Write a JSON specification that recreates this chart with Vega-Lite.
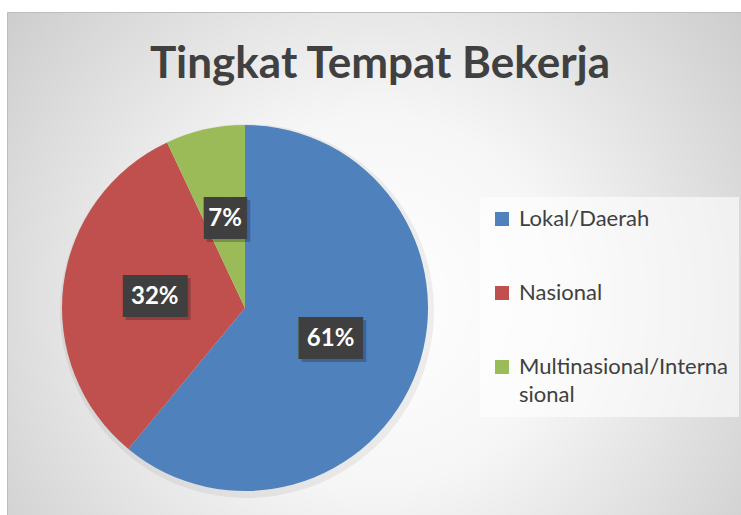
{
  "$schema": "https://vega.github.io/schema/vega-lite/v6.json",
  "width": 741,
  "height": 515,
  "autosize": {"type": "fit", "contains": "padding"},
  "padding": {"left": 7, "top": 12, "right": 0, "bottom": 0},
  "background": "#ffffff",
  "view": {
    "fill": {
      "gradient": "radial",
      "x1": 0.5, "y1": 0.55, "r1": 0,
      "x2": 0.5, "y2": 0.55, "r2": 0.72,
      "stops": [
        {"offset": 0, "color": "#ffffff"},
        {"offset": 0.35, "color": "#f6f6f6"},
        {"offset": 1, "color": "#c4c4c4"}
      ]
    },
    "stroke": "#bdbdbd",
    "strokeWidth": 1
  },
  "config": {
    "style": {"guide-label": {"lineHeight": 28}}
  },
  "title": {
    "text": "Tingkat Tempat Bekerja",
    "anchor": "middle",
    "frame": "group",
    "font": "Lato",
    "fontSize": 44,
    "fontWeight": "bold",
    "color": "#404040",
    "baseline": "alphabetic",
    "offset": -110,
    "dx": 6
  },
  "data": {
    "values": [
      {"category": "Lokal/Daerah", "value": 61, "label": "61%"},
      {"category": "Nasional", "value": 32, "label": "32%"},
      {"category": "Multinasional/Internasional", "value": 7, "label": "7%"}
    ]
  },
  "encoding": {
    "theta": {"field": "value", "type": "quantitative", "stack": true},
    "order": {"field": "value", "type": "quantitative", "sort": "descending"}
  },
  "layer": [
    {
      "mark": {"type": "arc", "x": 240, "y": 299, "outerRadius": 187, "fill": "#000000", "opacity": 0.06},
      "encoding": {"detail": {"field": "category"}}
    },
    {
      "mark": {"type": "arc", "x": 238, "y": 296, "outerRadius": 183},
      "encoding": {
        "color": {
          "field": "category",
          "type": "nominal",
          "scale": {
            "domain": ["Lokal/Daerah", "Nasional", "Multinasional/Internasional"],
            "range": ["#4F81BD", "#C0504D", "#9BBB59"]
          },
          "legend": {
            "orient": "none",
            "legendX": 473,
            "legendY": 185,
            "title": null,
            "fillColor": "rgba(255,255,255,0.6)",
            "padding": 11,
            "symbolType": "square",
            "symbolSize": 196,
            "symbolStrokeWidth": 0,
            "labelFont": "Lato",
            "labelFontSize": 22,
            "labelColor": "#404040",
            "labelLimit": 0,
            "labelOffset": 6,
            "rowPadding": 52,
            "labelExpr": "datum.label == 'Multinasional/Internasional' ? ['Multinasional/Interna', 'sional'] : datum.label"
          }
        }
      }
    },
    {
      "mark": {"type": "text", "x": 238, "y": 296, "dx": 3, "dy": 3, "radius": 91, "font": "DejaVu Sans Mono", "fontSize": 35.4, "fill": "#000000", "opacity": 0.22},
      "encoding": {
        "detail": {"field": "category"},
        "text": {"condition": {"test": "datum.value < 10", "value": "██"}, "value": "███"}
      }
    },
    {
      "mark": {"type": "text", "x": 238, "y": 296, "radius": 91, "font": "DejaVu Sans Mono", "fontSize": 35.4, "fill": "#3f3f3f"},
      "encoding": {
        "detail": {"field": "category"},
        "text": {"condition": {"test": "datum.value < 10", "value": "██"}, "value": "███"}
      }
    },
    {
      "mark": {"type": "text", "x": 238, "y": 296, "radius": 91, "font": "Lato", "fontSize": 24, "fontWeight": "bold", "fill": "#ffffff"},
      "encoding": {
        "detail": {"field": "category"},
        "text": {"field": "label"}
      }
    }
  ]
}
